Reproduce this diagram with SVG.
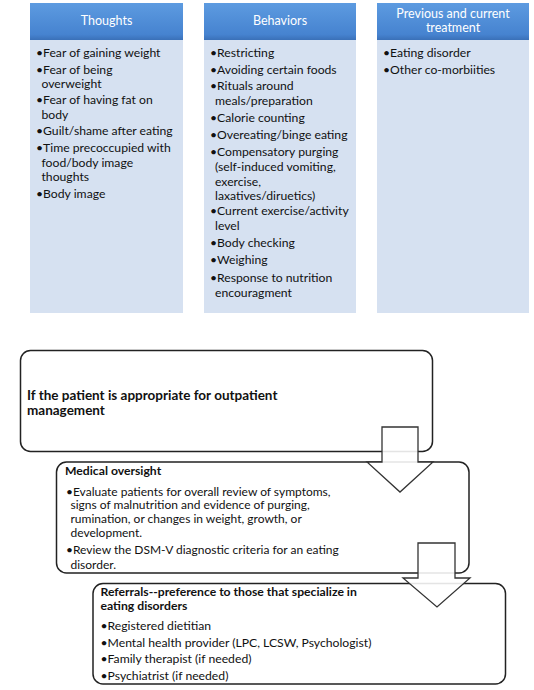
<svg xmlns="http://www.w3.org/2000/svg" width="534" height="690" viewBox="0 0 534 690">
<defs>
<linearGradient id="hdr" x1="0" y1="0" x2="0" y2="1">
<stop offset="0" stop-color="#5d9be0"/>
<stop offset="0.85" stop-color="#4683d0"/>
<stop offset="1" stop-color="#3a70b8"/>
</linearGradient>
<style>
.body{fill:#d6e1f1}
.hdr{fill:url(#hdr)}
.ht{font-family:Lato,"Liberation Sans",sans-serif;font-size:12.5px;fill:#ffffff;text-anchor:middle}
.t{font-family:Lato,"Liberation Sans",sans-serif;font-size:12.2px;fill:#111111}
.tm{font-family:Lato,"Liberation Sans",sans-serif;font-size:12px;fill:#111111}
.b{font-family:Lato,"Liberation Sans",sans-serif;font-size:12.2px;fill:#111111;font-weight:bold}
.b1{font-family:Lato,"Liberation Sans",sans-serif;font-size:13.5px;fill:#111111;font-weight:bold}
.box{fill:#ffffff;stroke:#222222;stroke-width:1.5}
.arr{fill:#ffffff;fill-opacity:0.88;stroke:#333333;stroke-width:1.3;stroke-linejoin:miter}
</style>
</defs>
<g id="thoughts">
<rect class="body" x="30" y="3" width="153" height="310"/>
<rect class="hdr" x="30" y="3" width="153" height="37"/>
<text class="ht" x="106.5" y="25">Thoughts</text>
<text class="t" x="36" y="57">•Fear of gaining weight</text>
<text class="t" x="36" y="73.5">•Fear of being</text>
<text class="t" x="41.5" y="87.5">overweight</text>
<text class="t" x="36" y="104">•Fear of having fat on</text>
<text class="t" x="41.5" y="118.5">body</text>
<text class="t" x="36" y="135">•Guilt/shame after eating</text>
<text class="t" x="36" y="152">•Time precoccupied with</text>
<text class="t" x="41.5" y="166.5">food/body image</text>
<text class="t" x="41.5" y="181">thoughts</text>
<text class="t" x="36" y="198">•Body image</text>
</g>
<g id="behaviors">
<rect class="body" x="204" y="3" width="152" height="310"/>
<rect class="hdr" x="204" y="3" width="152" height="37"/>
<text class="ht" x="280" y="25">Behaviors</text>
<text class="t" x="210" y="57">•Restricting</text>
<text class="t" x="210" y="73.5">•Avoiding certain foods</text>
<text class="t" x="210" y="90">•Rituals around</text>
<text class="t" x="215" y="105">meals/preparation</text>
<text class="t" x="210" y="121.5">•Calorie counting</text>
<text class="t" x="210" y="138.5">•Overeating/binge eating</text>
<text class="t" x="210" y="156">•Compensatory purging</text>
<text class="t" x="215" y="171">(self-induced vomiting,</text>
<text class="t" x="215" y="186">exercise,</text>
<text class="t" x="215" y="200">laxatives/diruetics)</text>
<text class="t" x="210" y="215">•Current exercise/activity</text>
<text class="t" x="215" y="230">level</text>
<text class="t" x="210" y="246.5">•Body checking</text>
<text class="t" x="210" y="264">•Weighing</text>
<text class="t" x="210" y="281.5">•Response to nutrition</text>
<text class="t" x="215" y="296.5">encouragment</text>
</g>
<g id="previous">
<rect class="body" x="377" y="3" width="152" height="310"/>
<rect class="hdr" x="377" y="3" width="152" height="37"/>
<text class="ht" x="453" y="18">Previous and current</text>
<text class="ht" x="453" y="32">treatment</text>
<text class="t" x="383" y="57">•Eating disorder</text>
<text class="t" x="383" y="74">•Other co-morbiities</text>
</g>
<g id="outpatient">
<rect class="box" x="20.5" y="350.5" width="412" height="101" rx="10"/>
<text class="b1" x="27" y="399.5">If the patient is appropriate for outpatient</text>
<text class="b1" x="27" y="415">management</text>
</g>
<g id="medical">
<rect class="box" x="56.5" y="462" width="412.5" height="111" rx="10"/>
<text class="b" x="65" y="474.5">Medical oversight</text>
<text class="tm" x="66" y="495.5">•Evaluate patients for overall review of symptoms,</text>
<text class="tm" x="70.5" y="509">signs of malnutrition and evidence of purging,</text>
<text class="tm" x="70.5" y="522.5">rumination, or changes in weight, growth, or</text>
<text class="tm" x="70.5" y="536.5">development.</text>
<text class="tm" x="66" y="553.5">•Review the DSM-V diagnostic criteria for an eating</text>
<text class="tm" x="70.5" y="569">disorder.</text>
</g>
<g id="referrals">
<rect class="box" x="93" y="583.5" width="412.5" height="100.5" rx="10"/>
<text class="b" x="100.5" y="596">Referrals--preference to those that specialize in</text>
<text class="b" x="100.5" y="609.5">eating disorders</text>
<text class="t" x="100.5" y="630">•Registered dietitian</text>
<text class="t" x="100.5" y="647">•Mental health provider (LPC, LCSW, Psychologist)</text>
<text class="t" x="100.5" y="663">•Family therapist (if needed)</text>
<text class="t" x="100.5" y="680">•Psychiatrist (if needed)</text>
</g>
<g id="connectors">
<path class="arr" d="M382,427 L418,427 L418,462 L433,462 L400,492 L367,462 L382,462 Z"/>
<path class="arr" d="M418,543 L455,543 L455,578 L470,578 L437,607 L403,578 L418,578 Z"/>
</g>
</svg>
